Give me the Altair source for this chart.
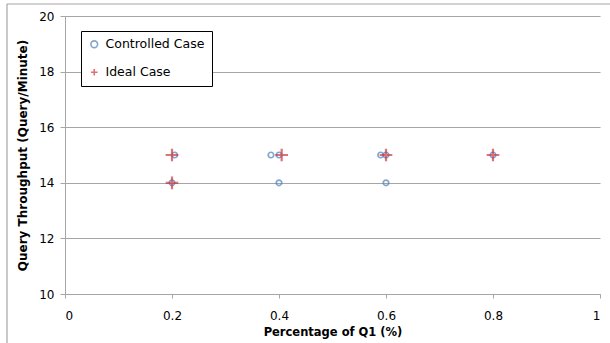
import altair as alt
import pandas as pd

# Data
ctrl_x = [0.205, 0.2, 0.385, 0.4, 0.4, 0.59, 0.6, 0.6, 0.8]
ctrl_y = [15, 14, 15, 15, 14, 15, 15, 14, 15]
ideal_x = [0.2, 0.2, 0.405, 0.6, 0.8]
ideal_y = [15, 14, 15, 15, 15]
series_names = ["Controlled Case", "Ideal Case"]
x_ticks = [0, 0.2, 0.4, 0.6, 0.8, 1]
y_ticks = [10, 12, 14, 16, 18, 20]

df = pd.DataFrame(
    [{"x": a, "y": b, "series": series_names[0]} for a, b in zip(ctrl_x, ctrl_y)]
    + [{"x": a, "y": b, "series": series_names[1]} for a, b in zip(ideal_x, ideal_y)]
)

FONT = "DejaVu Sans"
PLUS = "M-1,0L1,0M0,-1L0,1"

ctrl = df[df.series == series_names[0]]
ideal = df[df.series == series_names[1]]

xenc = alt.X("x:Q", scale=alt.Scale(domain=[0, 1], nice=False),
             axis=alt.Axis(values=x_ticks, format="~g", title="Percentage of Q1 (%)",
                           grid=False, domainColor="#a6a6a6", tickColor="#a6a6a6",
                           tickSize=4, labelPadding=12, titlePadding=5,
                           labelFontSize=12, titleFontSize=11.5, titleFontWeight="bold",
                           labelColor="#000", titleColor="#000", labelFont=FONT, titleFont=FONT))
yenc = alt.Y("y:Q", scale=alt.Scale(domain=[10, 20], nice=False),
             axis=alt.Axis(values=y_ticks, title="Query Throughput (Query/Minute)",
                           grid=True, gridColor="#a6a6a6", gridWidth=1.2,
                           domainColor="#a6a6a6", tickColor="#a6a6a6", tickSize=5,
                           labelPadding=6, titlePadding=9,
                           labelFontSize=12, titleFontSize=12, titleFontWeight="bold",
                           labelColor="#000", titleColor="#000", labelFont=FONT, titleFont=FONT))

color = alt.Color("series:N",
                  scale=alt.Scale(domain=series_names, range=["#4F81BD", "#D0383D"]),
                  legend=alt.Legend(title=None, orient="none", legendX=16, legendY=15,
                                    fillColor="white", strokeColor="#000", padding=7,
                                    labelFontSize=12.5, labelFont=FONT, labelColor="#000",
                                    rowPadding=14, symbolStrokeWidth=1.6, symbolSize=45,
                                    labelOffset=5))
shape = alt.Shape("series:N", scale=alt.Scale(domain=series_names, range=["circle", PLUS]))

pts_ctrl = alt.Chart(ctrl).mark_point(filled=False, strokeWidth=1.7, size=30).encode(
    x=xenc, y=yenc, color=color, shape=shape)
pts_ideal = alt.Chart(ideal).mark_point(filled=False, strokeWidth=2.2, size=160).encode(
    x=xenc, y=yenc, color=color, shape=shape)

border = alt.Chart(pd.DataFrame({"a": [0]})).mark_rule(color="#a6a6a6", strokeWidth=1.2).encode(
    x=alt.value(-58), x2=alt.value(545), y=alt.value(-12)
)
border_left = alt.Chart(pd.DataFrame({"a": [0]})).mark_rule(color="#a6a6a6", strokeWidth=1.2).encode(
    x=alt.value(-58), y=alt.value(-12), y2=alt.value(330)
)

chart = alt.layer(border, border_left, pts_ctrl, pts_ideal).properties(
    width=535, height=278,
    padding={"left": 65, "top": 16, "right": 10, "bottom": 49},
    autosize=alt.AutoSizeParams(type="none"),
).configure_view(stroke=None)

chart.save("out.html", embed_options={"renderer": "svg", "actions": False})
